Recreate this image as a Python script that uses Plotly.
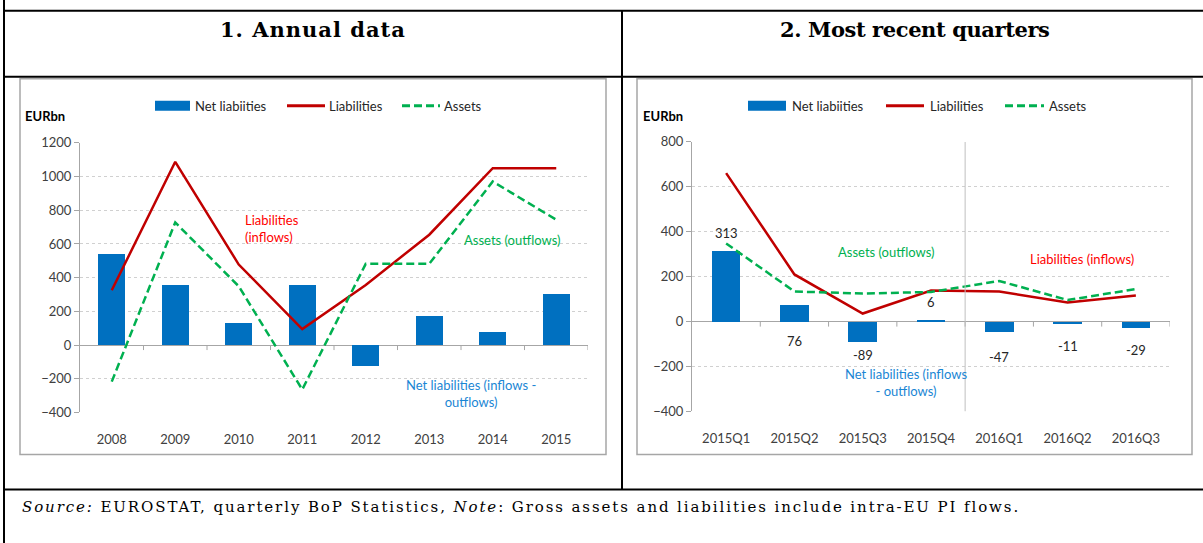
import plotly.graph_objects as go

# ---------------- data ----------------
years = ["2008", "2009", "2010", "2011", "2012", "2013", "2014", "2015"]
annual_net = [542, 360, 129, 359, -125, 173, 79, 306]
annual_liab = [325, 1088, 478, 95, 357, 655, 1050, 1050]
annual_assets = [-217, 728, 349, -264, 482, 482, 971, 744]
annual_ticks = [-400, -200, 0, 200, 400, 600, 800, 1000, 1200]

quarters = ["2015Q1", "2015Q2", "2015Q3", "2015Q4", "2016Q1", "2016Q2", "2016Q3"]
q_net = [313, 76, -89, 6, -47, -11, -29]
q_liab = [661, 210, 36, 138, 134, 85, 116]
q_assets = [348, 134, 125, 132, 181, 96, 145]
q_ticks = [-400, -200, 0, 200, 400, 600, 800]

legend_names = ["Net liabiities", "Liabilities", "Assets"]
titles = ["1. Annual data", "2. Most recent quarters"]
source_text = ("<i>Source:</i> EUROSTAT, quarterly BoP Statistics, <i>Note</i>: "
               "Gross assets and liabilities include intra-EU PI flows.")

# ---------------- style ----------------
W, H = 1203, 543
BLUE = "#0070C0"
RED = "#C00000"
GREEN = "#00B050"
TXT_RED = "#FF0000"
TXT_BLUE = "#1A86D4"
GRAY = "#A6A6A6"
SANS = "Lato"
SERIF = "DejaVu Serif"
tick_font = dict(family=SANS, size=13, color="#404040")

# vertical calibration of page pixels
VS, VO = 0.9686, 8.35


def px(x):
    return x / W


def py(y):
    return 1 - ((y - VO) / VS) / H


def spaced(s, sp):
    return '<span style="letter-spacing:%spx">%s</span>' % (sp, s)


fig = go.Figure()

# ---------------- traces ----------------
panels = [
    dict(cats=years, net=annual_net, liab=annual_liab, assets=annual_assets, xa="x", ya="y"),
    dict(cats=quarters, net=q_net, liab=q_liab, assets=q_assets, xa="x2", ya="y2"),
]
for p in panels:
    fig.add_trace(go.Bar(x=p["cats"], y=p["net"], marker=dict(color=BLUE, line_width=0),
                         width=0.42, name=legend_names[0], showlegend=False,
                         xaxis=p["xa"], yaxis=p["ya"]))
    fig.add_trace(go.Scatter(x=p["cats"], y=p["liab"], mode="lines", name=legend_names[1],
                             line=dict(color=RED, width=2.5), showlegend=False,
                             xaxis=p["xa"], yaxis=p["ya"]))
    fig.add_trace(go.Scatter(x=p["cats"], y=p["assets"], mode="lines", name=legend_names[2],
                             line=dict(color=GREEN, width=2.5, dash="8px,4px"), showlegend=False,
                             xaxis=p["xa"], yaxis=p["ya"]))


def xaxis_cfg(dom, n, anchor):
    return dict(domain=dom, type="category", range=[-0.5, n - 0.5], anchor=anchor,
                showline=False, showgrid=False, zeroline=False,
                ticks="outside", ticklen=15, tickcolor="rgba(0,0,0,0)",
                tickfont=tick_font, fixedrange=True)


def yaxis_cfg(dom, rng, tv, anchor):
    return dict(domain=dom, range=rng, anchor=anchor, tickvals=tv,
                showline=True, linecolor=GRAY, linewidth=1,
                ticks="outside", ticklen=5, tickcolor=GRAY,
                showgrid=True, gridcolor="#D0D0D0", griddash="dot", gridwidth=1,
                zeroline=True, zerolinecolor=GRAY, zerolinewidth=1,
                tickfont=tick_font, fixedrange=True)


fig.update_layout(
    width=W, height=H, margin=dict(l=0, r=0, t=0, b=0),
    paper_bgcolor="white", plot_bgcolor="rgba(0,0,0,0)",
    showlegend=False, bargap=0,
    xaxis=xaxis_cfg([px(80), px(588)], len(years), "y"),
    yaxis=yaxis_cfg([py(412), py(143)], [-400, 1200], annual_ticks, "x"),
    xaxis2=xaxis_cfg([px(692), px(1170)], len(quarters), "y2"),
    yaxis2=yaxis_cfg([py(411), py(142)], [-400, 800], q_ticks, "x2"),
)

shapes = []
# table borders
LW = 2
for (x0, y0, x1, y1) in [(3, 11, W, 11), (4, 0, 4, H), (4, 77, W, 77),
                         (4, 489, W, 489), (622, 11, 622, 489)]:
    shapes.append(dict(type="line", xref="paper", yref="paper", x0=px(x0), x1=px(x1),
                       y0=py(y0), y1=py(y1), line=dict(color="black", width=LW)))
# chart boxes
for (x0, y0, x1, y1) in [(20, 79, 606, 454), (637, 79, 1192, 454)]:
    shapes.append(dict(type="rect", xref="paper", yref="paper", x0=px(x0), x1=px(x1),
                       y0=py(y0), y1=py(y1), line=dict(color=GRAY, width=1.5),
                       fillcolor="white", layer="below"))
# category boundary tick marks on zero line
for xa, ya, cats in [("x", "y", years), ("x2", "y2", quarters)]:
    for i in range(len(cats)):
        shapes.append(dict(type="line", xref=xa, yref=ya, x0=i + 0.5, x1=i + 0.5,
                           ysizemode="pixel", yanchor=0, y0=0, y1=-5,
                           line=dict(color=GRAY, width=1)))
# separator between 2015 and 2016 in quarterly chart
shapes.append(dict(type="line", xref="x2", yref="y2", x0=3.5, x1=3.5, y0=-400, y1=800,
                   line=dict(color="#BFBFBF", width=1)))

# manual legends
leg_y = 106
for (bx0, bx1, tx0), (lx0, lx1, tx1), (ax0, ax1, tx2) in [
    ((155, 190, 193), (287, 325, 327), (402, 440, 442)),
    ((748, 786, 790), (886, 924, 928), (1005, 1044, 1047)),
]:
    shapes.append(dict(type="rect", xref="paper", yref="paper", x0=px(bx0), x1=px(bx1),
                       y0=py(leg_y + 5), y1=py(leg_y - 5), fillcolor=BLUE, line_width=0))
    shapes.append(dict(type="line", xref="paper", yref="paper", x0=px(lx0), x1=px(lx1),
                       y0=py(leg_y), y1=py(leg_y), line=dict(color=RED, width=3)))
    shapes.append(dict(type="line", xref="paper", yref="paper", x0=px(ax0), x1=px(ax1),
                       y0=py(leg_y), y1=py(leg_y), line=dict(color=GREEN, width=3, dash="8px,4px")))
fig.update_layout(shapes=shapes)

ann = []


def text(x, y, s, color="#000000", size=13, family=SANS, xanchor="center", align="center"):
    ann.append(dict(x=px(x), y=py(y), xref="paper", yref="paper", text=s, showarrow=False,
                    xanchor=xanchor, yanchor="middle", align=align,
                    font=dict(family=family, size=size, color=color)))


# legend texts
for xs in [(193, 327, 442), (790, 928, 1047)]:
    for x, name in zip(xs, legend_names):
        text(x, leg_y, name, "#262626", 13, xanchor="left", align="left")

# titles
text(313, 30, "<b>" + spaced(titles[0], 1) + "</b>", "black", 21, SERIF)
text(915, 30, "<b>" + spaced(titles[1], -0.4) + "</b>", "black", 21, SERIF)
# source
text(20, 506, spaced(source_text, 1.9), "black", 15, SERIF, xanchor="left", align="left")

# unit labels
text(23, 116, "<b>EURbn</b>", "#000000", 13, xanchor="left", align="left")
text(641, 116, "<b>EURbn</b>", "#000000", 13, xanchor="left", align="left")

# in-chart descriptive labels
text(243, 228, "Liabilities<br>(inflows)", TXT_RED, 13, xanchor="left", align="left")
text(512, 240, "Assets (outflows)", GREEN, 13)
text(471, 393, "Net liabilities (inflows -<br>outflows)", TXT_BLUE, 13)
text(886, 252, "Assets (outflows)", GREEN, 13)
text(1082, 259, "Liabilities (inflows)", TXT_RED, 13)
text(906, 382, "Net liabilities (inflows<br>- outflows)", TXT_BLUE, 13)

# data labels for net liabilities bars (pixel offsets from bar end)
label_shift_q = {"2015Q2": (0, -19), "2015Q3": (None, -13), "2016Q1": (None, -24)}
for xa, ya, cats, vals in [("x", "y", years, annual_net), ("x2", "y2", quarters, q_net)]:
    for c, v in zip(cats, vals):
        anchor_y, shift = v, (18 if v >= 0 else -21)
        if xa == "x2" and c in label_shift_q:
            a, s = label_shift_q[c]
            anchor_y = v if a is None else a
            shift = s
        ann.append(dict(x=c, y=anchor_y, xref=xa, yref=ya, text=str(v), showarrow=False,
                        yshift=shift / VS, yanchor="middle",
                        font=dict(family=SANS, size=13, color="#262626")))

fig.update_layout(annotations=ann)
fig.write_html("out.html", config={"displayModeBar": False},
               post_script="document.body.style.margin='0';")
